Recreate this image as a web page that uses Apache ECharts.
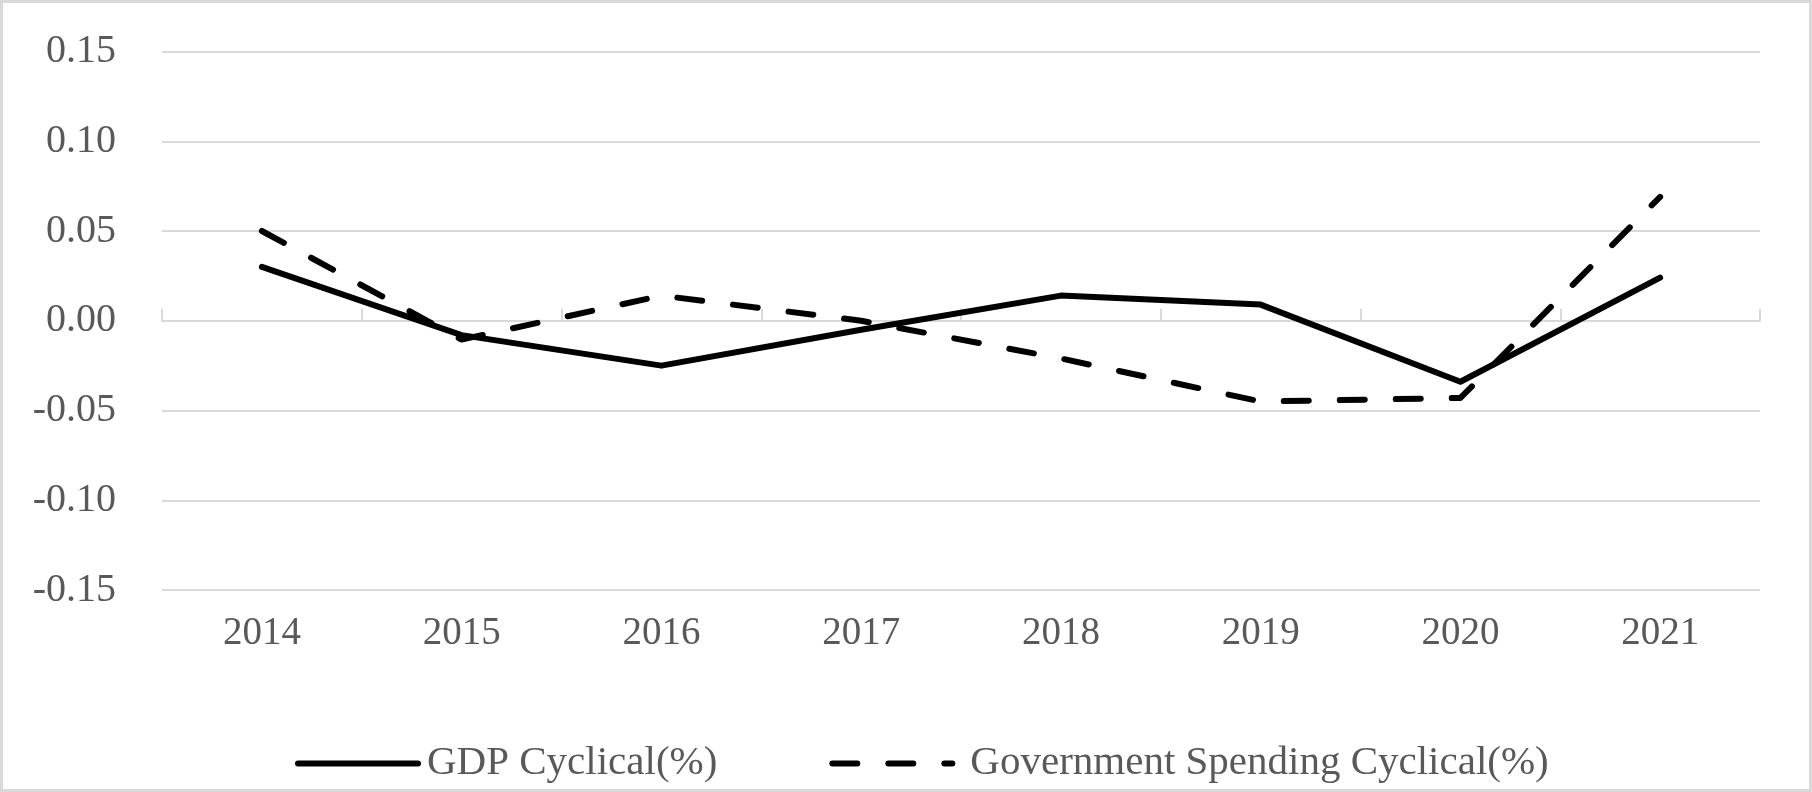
<!DOCTYPE html>
<html>
<head>
<meta charset="utf-8">
<script src="https://cdn.jsdelivr.net/npm/echarts@6/dist/echarts.min.js"></script>
<style>
html,body{margin:0;padding:0;background:#fff;}
#chart{width:1812px;height:792px;}
</style>
</head>
<body>
<div id="chart"></div>
<script>
var years = ['2014','2015','2016','2017','2018','2019','2020','2021'];
var gdpCyclical = [0.030, -0.008, -0.025, -0.005, 0.014, 0.009, -0.034, 0.024];
var govCyclical = [0.050, -0.0105, 0.014, 0.000, -0.021, -0.045, -0.043, 0.069];
var seriesNames = ['GDP Cyclical(%)', 'Government Spending Cyclical(%)'];

var FONT = '"Liberation Serif", "Times New Roman", serif';
var GRAY = '#595959';
var LIGHT = '#d9d9d9';
var DASH = [25, 31];

var chart = echarts.init(document.getElementById('chart'), null, {renderer: 'canvas'});
chart.setOption({
  backgroundColor: '#ffffff',
  animation: false,
  graphic: [{
    type: 'rect',
    shape: {x: 1.5, y: 1.5, width: 1809, height: 789},
    style: {fill: 'none', stroke: LIGHT, lineWidth: 3},
    silent: true
  }],
  grid: {left: 162, right: 52, top: 51.5, bottom: 202, containLabel: false},
  legend: {
    data: [
      {name: seriesNames[0], lineStyle: {color: '#000', width: 6, type: 'solid', cap: 'round'},
       textStyle: {padding: [0, 0, 0, 4]}},
      {name: seriesNames[1], lineStyle: {color: '#000', width: 6, type: DASH, cap: 'round'},
       textStyle: {padding: [0, 0, 0, 13]}}
    ],
    top: 743,
    left: 295,
    padding: 0,
    itemWidth: 120,
    itemHeight: 14,
    itemGap: 112,
    itemStyle: {opacity: 0, color: 'rgba(0,0,0,0)', borderWidth: 0},
    textStyle: {fontFamily: FONT, fontSize: 41, color: GRAY}
  },
  xAxis: [{
    type: 'category',
    data: years,
    boundaryGap: true,
    position: 'bottom',
    axisLine: {show: false, onZero: false},
    axisTick: {show: false},
    axisLabel: {fontFamily: FONT, fontSize: 39, color: GRAY, margin: 24}
  }, {
    type: 'category',
    data: years,
    boundaryGap: true,
    position: 'bottom',
    axisLine: {show: true, onZero: true, lineStyle: {color: LIGHT, width: 2}},
    axisTick: {show: true, inside: true, length: 12, lineStyle: {color: LIGHT, width: 2}},
    axisLabel: {show: false}
  }],
  yAxis: {
    type: 'value',
    min: -0.15,
    max: 0.15,
    interval: 0.05,
    axisLine: {show: false},
    axisTick: {show: false},
    splitLine: {lineStyle: {color: LIGHT, width: 2}},
    axisLabel: {
      fontFamily: FONT, fontSize: 40, color: GRAY, margin: 46,
      formatter: function (v) { return Math.abs(v) < 1e-9 ? '0.00' : v.toFixed(2); }
    }
  },
  series: [{
    name: seriesNames[0],
    type: 'line',
    xAxisIndex: 0,
    data: gdpCyclical,
    symbol: 'none',
    lineStyle: {color: '#000000', width: 6, cap: 'round', join: 'round'},
    itemStyle: {color: '#000000'}
  }, {
    name: seriesNames[1],
    type: 'line',
    xAxisIndex: 0,
    data: govCyclical,
    symbol: 'none',
    lineStyle: {color: '#000000', width: 6, type: DASH, cap: 'round', join: 'round'},
    itemStyle: {color: '#000000'}
  }]
});
</script>
</body>
</html>
